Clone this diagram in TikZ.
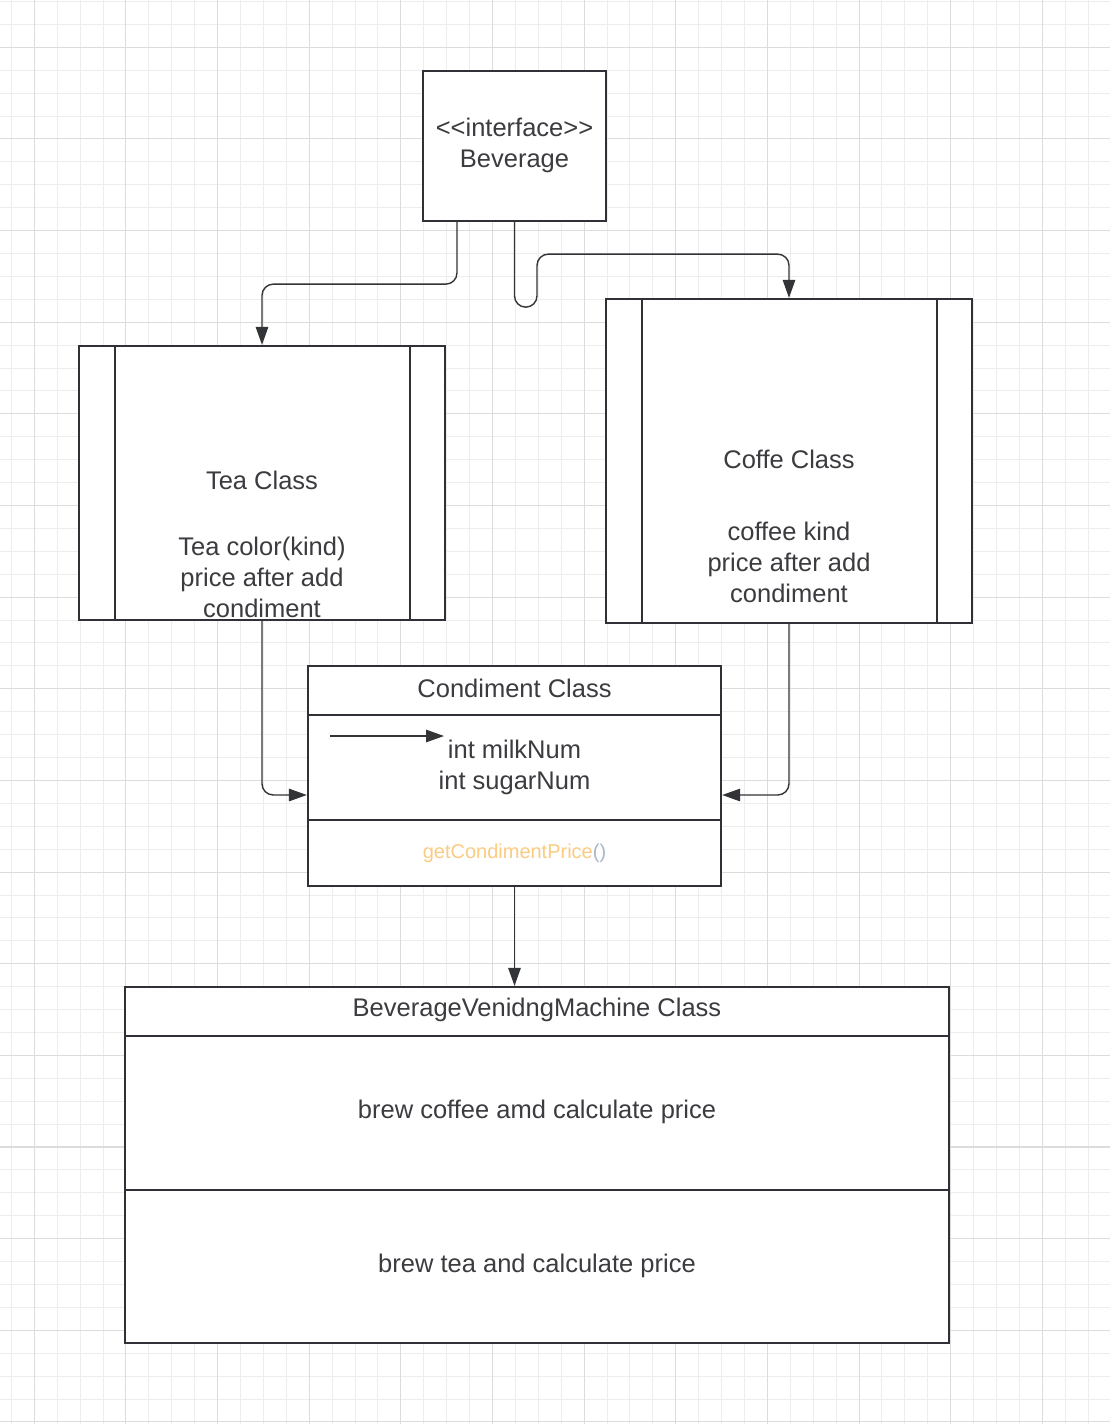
\documentclass[tikz,border=0pt]{standalone}
\usepackage{fontspec}
\setmainfont{Liberation Sans}
\usetikzlibrary{arrows.meta,calc}
\definecolor{bcol}{HTML}{2F3136}
\definecolor{ccol}{HTML}{333438}
\definecolor{tcol}{HTML}{3B3B40}
\definecolor{minorc}{HTML}{EDEDED}
\definecolor{majorc}{HTML}{DCDCDC}
\definecolor{orangec}{HTML}{FBCB82}
\definecolor{parenc}{HTML}{A8B7C9}
\newcommand\bigtxt{\fontsize{25.5}{31}\selectfont}
\newcommand\smalltxt{\fontsize{20}{24}\selectfont}
\tikzset{
  minorg/.style={draw=minorc, line width=1pt},
  majorg/.style={draw=majorc, line width=1.1pt},
  box/.style={draw=bcol, line width=2.3pt, rectangle, inner sep=0pt, fill=white},
  divline/.style={draw=bcol, line width=2.3pt},
  conn/.style={draw=ccol, line width=1.4pt, -{Triangle[length=18pt,width=12.5pt]}, rounded corners=11.25pt},
  txt/.style={text=tcol, font=\bigtxt, align=center, inner sep=0pt}
}
\begin{document}
\begin{tikzpicture}[x=1pt,y=-1pt]
\useasboundingbox (0,0) rectangle (1110,1424);
\fill[white] (0,0) rectangle (1110,1424);
% grid
\foreach \i in {0,...,48} \draw[minorg] ({11.4+\i*22.91},0) -- ({11.4+\i*22.91},1424);
\foreach \i in {0,...,62} \draw[minorg] (0,{1.5+\i*22.91}) -- (1110,{1.5+\i*22.91});
\foreach \i in {0,...,11} \draw[majorg] ({34.3+\i*91.64},0) -- ({34.3+\i*91.64},1424);
\foreach \i in {0,...,15} \draw[majorg] (0,{47.3+\i*91.64}) -- (1110,{47.3+\i*91.64});

% boxes
\node[box, minimum width=183pt, minimum height=150pt] (bev) at (514.5,146) {};
\node[txt] (bevtxt) at (514.5,145.5) {<{}<interface>{}>\\Beverage};

\node[box, minimum width=366pt, minimum height=274pt] (tea) at (262,483) {};
\draw[divline] ([xshift=37pt]tea.north west) -- ([xshift=37pt]tea.south west);
\draw[divline] ([xshift=-36pt]tea.north east) -- ([xshift=-36pt]tea.south east);
\node[txt] (teatitle) at (262,480) {Tea Class};
\node[txt] (teatxt) at (262,577) {Tea color(kind)\\price after add\\condiment};

\node[box, minimum width=366pt, minimum height=324pt] (coffee) at (789,461) {};
\draw[divline] ([xshift=37pt]coffee.north west) -- ([xshift=37pt]coffee.south west);
\draw[divline] ([xshift=-36pt]coffee.north east) -- ([xshift=-36pt]coffee.south east);
\node[txt] (coffeetitle) at (789,459) {Coffe Class};
\node[txt] (coffeetxt) at (789,562) {coffee kind\\price after add\\condiment};

\node[box, minimum width=413pt, minimum height=220pt] (cond) at (514.5,776) {};
\draw[divline] (308,715) -- (721,715);
\draw[divline] (308,820) -- (721,820);
\node[txt] (condtitle) at (514.5,688) {Condiment Class};
\node[txt] (condattr) at (514.5,767) {int milkNum\\int sugarNum};
\node[txt, font=\smalltxt] (condop) at (514.5,853) {\textcolor{orangec}{getCondimentPrice}\textcolor{parenc}{()}};

\node[box, minimum width=824pt, minimum height=356pt] (bvm) at (537,1165) {};
\draw[divline] (125,1036) -- (949,1036);
\draw[divline] (125,1190) -- (949,1190);
\node[txt] (bvmtitle) at (537,1010) {BeverageVenidngMachine Class};
\node[txt] (bvmc) at (537,1112) {brew coffee amd calculate price};
\node[txt] (bvmt) at (537,1266) {brew tea and calculate price};

% stray arrow inside condiment
\coordinate (sa) at (330,736);
\coordinate (sb) at (444,736);
\draw[conn] (sa) -- (sb);

% connectors
\draw[conn] ([xshift=-57.5pt]bev.south) -- ++(0,62) -| (tea.north);
\draw[conn] (bev.south) -- ++(0,85) -- ++(22.5,0) -- ++(0,-53) -| (coffee.north);
\draw[conn] (tea.south) |- ([yshift=-19pt]cond.west);
\draw[conn] (coffee.south) |- ([yshift=-19pt]cond.east);
\draw[conn] (cond.south) -- (cond.south |- bvm.north);
\end{tikzpicture}
\end{document}
